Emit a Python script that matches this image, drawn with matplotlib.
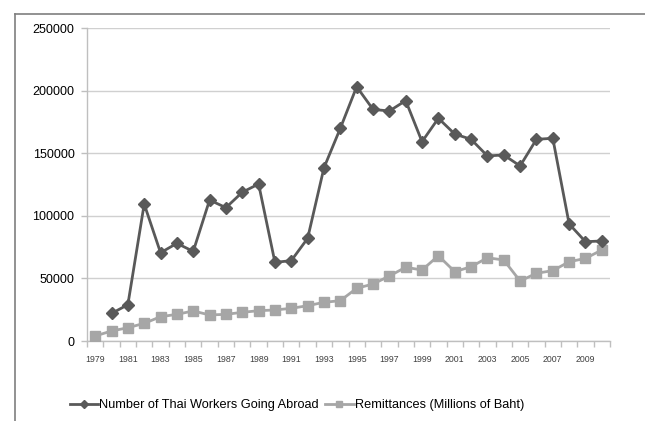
import matplotlib
matplotlib.use("Agg")
import matplotlib.pyplot as plt
from matplotlib.lines import Line2D

years = list(range(1979, 2011))
workers = [None, 22000, 29000, 109400, 70500, 78000, 71600, 112600, 106500, 118800,
           125400, 62800, 64200, 82000, 138400, 169900, 203100, 185000, 183700, 192000,
           159200, 177900, 165300, 161100, 147800, 148600, 139800, 161100, 161900, 93500,
           79300, 79900]
remit = [4000, 8000, 10600, 14100, 19400, 21300, 24000, 20800, 21300, 22900,
         24200, 24800, 26100, 28200, 30900, 32200, 42100, 45500, 51900, 58900,
         56700, 68100, 55400, 59300, 66500, 64700, 47900, 54100, 56200, 63300,
         66000, 72700]
yticks = [0, 50000, 100000, 150000, 200000, 250000]
series_names = ["Number of Thai Workers Going Abroad", "Remittances (Millions of Baht)"]

plt.rcParams['font.family'] = ['Liberation Sans', 'DejaVu Sans']

fig = plt.figure(figsize=(6.45, 4.21), dpi=100)
ax = fig.add_axes([87/645, 1-341/421, (610-87)/645, (341-28)/421])

x = list(range(len(years)))
wx = [i for i, v in zip(x, workers) if v is not None]
wy = [v for v in workers if v is not None]

ax.plot(wx, wy, color='#595959', lw=2.0, marker='D', markersize=6.5,
        label=series_names[0], zorder=4)
ax.plot(x, remit, color='#a6a6a6', lw=2.0, marker='s', markersize=7.5,
        label=series_names[1], zorder=3)

ax.set_xlim(-0.5, len(years) - 0.5)
ax.set_ylim(0, 250000)
ax.set_yticks(yticks)
ax.set_yticklabels([str(v) for v in yticks], fontsize=9, color='#000000')
ax.yaxis.grid(True, color='#d0d0d0', lw=1.0)
ax.set_axisbelow(True)

ax.set_xticks(x[::2])
ax.set_xticklabels([str(y) for y in years[::2]], fontsize=6.3, color='#404040')
ax.set_xticks([i - 0.5 for i in range(len(years) + 1)], minor=True)
ax.tick_params(axis='x', which='major', length=0, pad=10)
ax.tick_params(axis='x', which='minor', length=4, color='#bfbfbf', width=1)
ax.tick_params(axis='y', length=4, color='#bfbfbf', width=1, pad=5)

for s in ['top', 'right']:
    ax.spines[s].set_visible(False)
ax.spines['left'].set_color('#bfbfbf')
ax.spines['bottom'].set_color('#bfbfbf')
ax.spines['left'].set_linewidth(1)
ax.spines['bottom'].set_linewidth(1)

leg = fig.legend(loc='center left', bbox_to_anchor=(70/645, 1-405/421), ncol=2,
                 frameon=False, fontsize=9.2, handlelength=2.2, handletextpad=0.1,
                 columnspacing=0.5, borderaxespad=0, borderpad=0, markerscale=0.6)

# outer frame
fig.add_artist(Line2D([15/645, 15/645], [0, 1-14/421], transform=fig.transFigure,
                      color='#7f7f7f', lw=1.2))
fig.add_artist(Line2D([15/645, 1], [1-14/421, 1-14/421], transform=fig.transFigure,
                      color='#7f7f7f', lw=1.2))

fig.savefig('out.png', dpi=100, facecolor='white')
